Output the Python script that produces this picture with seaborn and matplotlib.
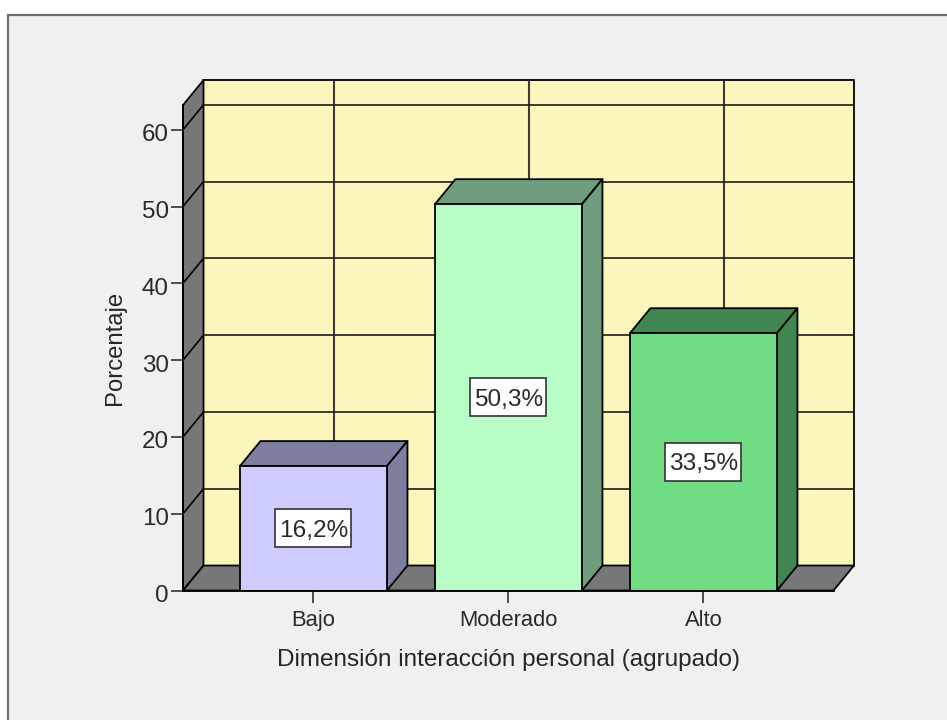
import matplotlib
matplotlib.use("Agg")
import matplotlib.pyplot as plt
from matplotlib.patches import Polygon, Rectangle
from matplotlib.transforms import ScaledTranslation
import pandas as pd
import seaborn as sns

categories = ["Bajo", "Moderado", "Alto"]
percentages = [16.2, 50.3, 33.5]
y_ticks = [0, 10, 20, 30, 40, 50, 60]

front_colors = ["#CCCCFF", "#B8FDC6", "#70DD85"]
side_colors = ["#7E7E9F", "#6F9C7C", "#3F8650"]
wall_color = "#FCF6BC"
gray_color = "#777777"
line_color = "#1c1c1c"

WIDTH, HEIGHT = 947, 720
PX_PER_CAT = 195.0
PX_PER_UNIT = 7.68

sns.set_style("white")
plt.rcParams["font.family"] = ["Liberation Sans", "DejaVu Sans"]
plt.rcParams["text.color"] = "#2a2a2a"

fig = plt.figure(figsize=(WIDTH / 100, HEIGHT / 100), dpi=100, facecolor="white")

# panel background with the gray frame
fig.add_artist(Rectangle((8 / WIDTH, -0.05), 1.0, 1 - 15 / HEIGHT + 0.05,
                         transform=fig.transFigure, facecolor="#F0F0F0",
                         edgecolor="#6E6E6E", linewidth=1.6, zorder=-1))

ax = fig.add_axes([183 / WIDTH, (HEIGHT - 590.5) / HEIGHT, 650.5 / WIDTH, 63.2 * PX_PER_UNIT / HEIGHT])
ax.patch.set_visible(False)

df = pd.DataFrame({"cat": categories, "pct": percentages})
sns.barplot(data=df, x="cat", y="pct", hue="cat", palette=front_colors, legend=False,
            width=0.754, edgecolor="black", linewidth=1.3, saturation=1, zorder=5, ax=ax)

xmin, xmax = -0.669, 2.667
ymax = 63.2
ax.set_xlim(xmin, xmax)
ax.set_ylim(0, ymax)

# depth of the fake 3D box, in data units
dx = 20.5 / PX_PER_CAT
dy = 25 / PX_PER_UNIT

# size of the white label boxes, in data units
box_w = 76 / PX_PER_CAT
box_h = 38 / PX_PER_UNIT


def poly(points, color, zorder):
    ax.add_patch(Polygon(points, closed=True, facecolor=color, edgecolor="black",
                         linewidth=1.3, clip_on=False, zorder=zorder, joinstyle="round"))


# walls and floor
poly([(xmin + dx, dy), (xmax + dx, dy), (xmax + dx, ymax + dy), (xmin + dx, ymax + dy)], wall_color, 1)
poly([(xmin, 0), (xmin + dx, dy), (xmin + dx, ymax + dy), (xmin, ymax)], gray_color, 1)
poly([(xmin, 0), (xmin + dx, dy), (xmax + dx, dy), (xmax, 0)], gray_color, 1)

# grid on back wall and side wall
for t in y_ticks[1:]:
    ax.plot([xmin + dx, xmax + dx], [t + dy, t + dy], color=line_color, lw=1.2, clip_on=False, zorder=2)
    ax.plot([xmin, xmin + dx], [t, t + dy], color="black", lw=1.2, clip_on=False, zorder=2)
for i in range(len(categories)):
    ax.plot([i + dx, i + dx], [dy, ymax + dy], color=line_color, lw=1.5, alpha=0.85, clip_on=False, zorder=2)

# bar tops, sides and value labels
bars = [c[0] for c in ax.containers]
for i, bar in enumerate(bars):
    x0 = bar.get_x()
    x1 = x0 + bar.get_width()
    h = bar.get_height()
    poly([(x0, h), (x0 + dx, h + dy), (x1 + dx, h + dy), (x1, h)], side_colors[i], 4)
    poly([(x1, 0), (x1 + dx, dy), (x1 + dx, h + dy), (x1, h)], side_colors[i], 4)
    ax.add_patch(Rectangle((i - box_w / 2, h / 2 - box_h / 2), box_w, box_h, facecolor="white",
                           edgecolor="#333333", linewidth=1.2, zorder=6))
    label = f"{percentages[i]:.1f}%".replace(".", ",")
    ax.text(i, h / 2 - 2.5 / PX_PER_UNIT, label, ha="center", va="center", fontsize=17.6, zorder=7)

for side in ["top", "right"]:
    ax.spines[side].set_visible(False)
for side in ["left", "bottom"]:
    ax.spines[side].set_color("black")
    ax.spines[side].set_linewidth(1.3)
    ax.spines[side].set_zorder(7)

ax.set_yticks(y_ticks)
ax.tick_params(axis="y", length=9, width=1.2, color="#333333", labelsize=17.4, labelcolor="#2a2a2a", pad=1.2, left=True)
ax.tick_params(axis="x", length=8.6, width=1.2, color="#333333", labelsize=15.8, labelcolor="#2a2a2a", pad=5.4, bottom=True)
ax.set_xlabel("Dimensión interacción personal (agrupado)", fontsize=17.5, labelpad=13)
ax.set_ylabel("Porcentaje", fontsize=17.2, labelpad=11.5)

# y tick labels sit a little below their ticks
shift = ScaledTranslation(0, -3 / 100, fig.dpi_scale_trans)
for tick_label in ax.get_yticklabels():
    tick_label.set_transform(tick_label.get_transform() + shift)

fig.savefig("out.png", dpi=100, facecolor="white")
